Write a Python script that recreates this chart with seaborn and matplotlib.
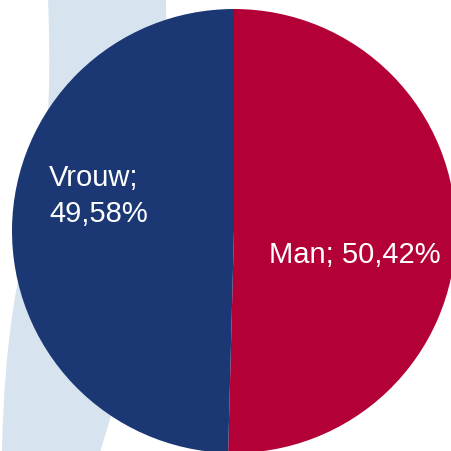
import matplotlib
matplotlib.use("Agg")
import matplotlib.pyplot as plt
import seaborn as sns
from matplotlib.path import Path
from matplotlib.patches import PathPatch

# Data
labels = ["Man", "Vrouw"]
shares = [50.42, 49.58]
colors = ["#B30037", "#1C3874"]

sns.set_style("white")
plt.rcParams['font.family'] = ['Liberation Sans Narrow', 'Liberation Sans', 'DejaVu Sans']

fig = plt.figure(figsize=(4.52, 4.52), dpi=100)
W = 452.0

# light background band (decoration) on its own axes, pixel coords
bg = fig.add_axes([0, 0, 1, 1], zorder=0)
bg.set_xlim(0, W)
bg.set_ylim(W, 0)
bg.axis("off")
verts = [(48, -2),
         (50, 60), (52, 140), (35, 210),
         (18, 270), (4, 340), (2, 454),
         (100, 454),
         (115, 400), (170, 250), (166, -2),
         (48, -2)]
codes = [Path.MOVETO,
         Path.CURVE4, Path.CURVE4, Path.CURVE4,
         Path.CURVE4, Path.CURVE4, Path.CURVE4,
         Path.LINETO,
         Path.CURVE4, Path.CURVE4, Path.CURVE4,
         Path.CLOSEPOLY]
bg.add_patch(PathPatch(Path(verts, codes), facecolor="#D7E3EF", edgecolor="none"))

ax = fig.add_axes([0, 0, 1, 1], zorder=1)
ax.patch.set_alpha(0)

cx, cy, r = 234.0, 232.0, 222.0
ax.pie(shares, colors=colors, startangle=90, counterclock=False,
       wedgeprops=dict(linewidth=0))
ax.set_xlim(-cx / r, (W - cx) / r)
ax.set_ylim(-(W - cy) / r, cy / r)
ax.set_aspect("equal")
ax.axis("off")

def to_data(x, y):
    return ((x - cx) / r, (cy - y) / r)

tx, ty = to_data(49, 196)
ax.text(tx, ty, f"{labels[1]};\n{shares[1]:.2f}%".replace(".", ","),
        color="white", fontsize=21, ha="left", va="center", linespacing=1.4)
tx, ty = to_data(355, 255)
ax.text(tx, ty, f"{labels[0]}; {shares[0]:.2f}%".replace(".", ","),
        color="white", fontsize=21, ha="center", va="center")

fig.savefig("out.png", dpi=100)
